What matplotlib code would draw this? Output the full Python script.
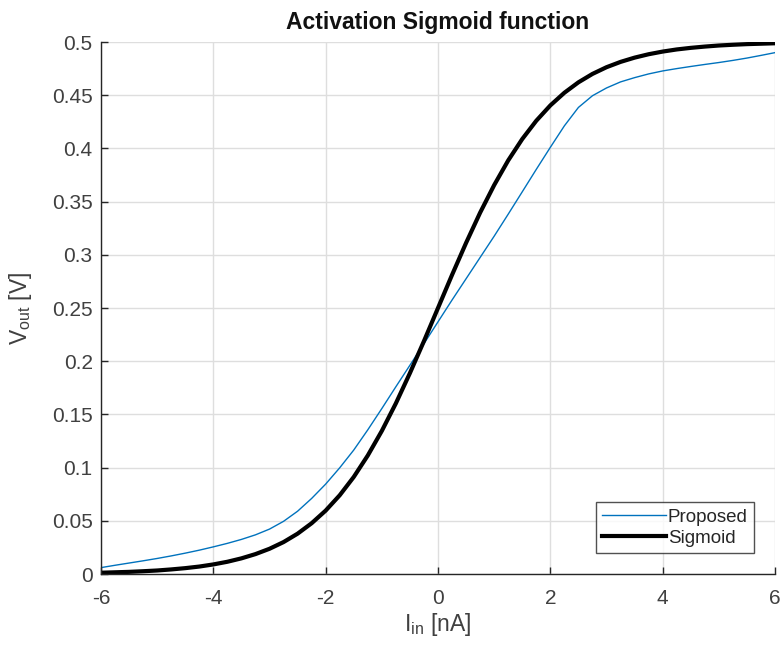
import matplotlib
matplotlib.use("Agg")
import matplotlib.pyplot as plt
from matplotlib.ticker import FuncFormatter

plt.rcParams['font.family'] = ['Liberation Sans', 'DejaVu Sans']
plt.rcParams['mathtext.default'] = 'regular'
plt.rcParams['axes.unicode_minus'] = False

# Input current [nA]
x_in = [-6.0, -5.75, -5.5, -5.25, -5.0, -4.75, -4.5, -4.25, -4.0, -3.75, -3.5, -3.25,
        -3.0, -2.75, -2.5, -2.25, -2.0, -1.75, -1.5, -1.25, -1.0, -0.75, -0.5, -0.25,
        0.0, 0.25, 0.5, 0.75, 1.0, 1.25, 1.5, 1.75, 2.0, 2.25, 2.5, 2.75,
        3.0, 3.25, 3.5, 3.75, 4.0, 4.25, 4.5, 4.75, 5.0, 5.25, 5.5, 5.75, 6.0]

# Proposed circuit output [V]
proposed = [0.0060, 0.0082, 0.0103, 0.0124, 0.0146, 0.0170, 0.0196, 0.0224, 0.0255, 0.0288, 0.0325, 0.0368,
            0.0422, 0.0495, 0.0590, 0.0710, 0.0845, 0.0998, 0.1165, 0.1355, 0.1555, 0.1760, 0.1962, 0.2165,
            0.2370, 0.2575, 0.2775, 0.2975, 0.3175, 0.3382, 0.3592, 0.3803, 0.4010, 0.4212, 0.4385, 0.4495,
            0.4568, 0.4625, 0.4665, 0.4700, 0.4728, 0.4750, 0.4770, 0.4789, 0.4807, 0.4827, 0.4849, 0.4874, 0.4900]

# Ideal sigmoid output [V]
sigmoid = [0.0012, 0.0016, 0.0020, 0.0026, 0.0033, 0.0043, 0.0055, 0.0070, 0.0090, 0.0115, 0.0147, 0.0187,
           0.0237, 0.0300, 0.0379, 0.0477, 0.0596, 0.0740, 0.0912, 0.1114, 0.1345, 0.1604, 0.1888, 0.2189,
           0.2500, 0.2811, 0.3112, 0.3396, 0.3655, 0.3887, 0.4088, 0.4260, 0.4404, 0.4523, 0.4621, 0.4700,
           0.4763, 0.4813, 0.4853, 0.4885, 0.4910, 0.4930, 0.4945, 0.4957, 0.4967, 0.4974, 0.4980, 0.4984, 0.4988]

x_ticks = [-6, -4, -2, 0, 2, 4, 6]
y_ticks = [0, 0.05, 0.1, 0.15, 0.2, 0.25, 0.3, 0.35, 0.4, 0.45, 0.5]

fig = plt.figure(figsize=(7.82, 6.45), dpi=100)
ax = fig.add_axes([101/782, 71/645, 674/782, 532/645])

ax.plot(x_in, proposed, color='#0072BD', lw=1.0, label='Proposed')
ax.plot(x_in, sigmoid, color='black', lw=3.0, label='Sigmoid')

ax.set_xlim(-6, 6)
ax.set_ylim(0, 0.5)
ax.set_xticks(x_ticks)
ax.set_yticks(y_ticks)
fmt = FuncFormatter(lambda v, p: '%g' % v)
ax.xaxis.set_major_formatter(fmt)
ax.yaxis.set_major_formatter(fmt)

ax.grid(True, color='#dedede', lw=1.0)
ax.set_axisbelow(True)
for s in ['top', 'right']:
    ax.spines[s].set_visible(False)
for s in ['left', 'bottom']:
    ax.spines[s].set_color('#262626')
    ax.spines[s].set_linewidth(1.0)
ax.tick_params(direction='in', length=5, width=1.0, colors='#262626',
               labelsize=15, labelcolor='#404040')
ax.tick_params(axis='x', pad=11)
ax.tick_params(axis='y', pad=6)

ax.set_title('Activation Sigmoid function', fontsize=16.5, fontweight='bold',
             color='#111111', pad=9)
ax.set_xlabel(r'I$_{in}$ [nA]', fontsize=16.5, color='#404040', labelpad=2)
ax.set_ylabel(r'V$_{out}$ [V]', fontsize=16.5, color='#404040', labelpad=13)

leg = ax.legend(loc='lower right', fontsize=13.5, frameon=True, fancybox=False,
                edgecolor='#262626', handlelength=3.4, handletextpad=0.1,
                borderpad=0.35, labelspacing=0.2, borderaxespad=1.1)
leg.get_frame().set_linewidth(1.0)
for t in leg.get_texts():
    t.set_color('#262626')

fig.savefig('out.png', dpi=100, facecolor='white')
